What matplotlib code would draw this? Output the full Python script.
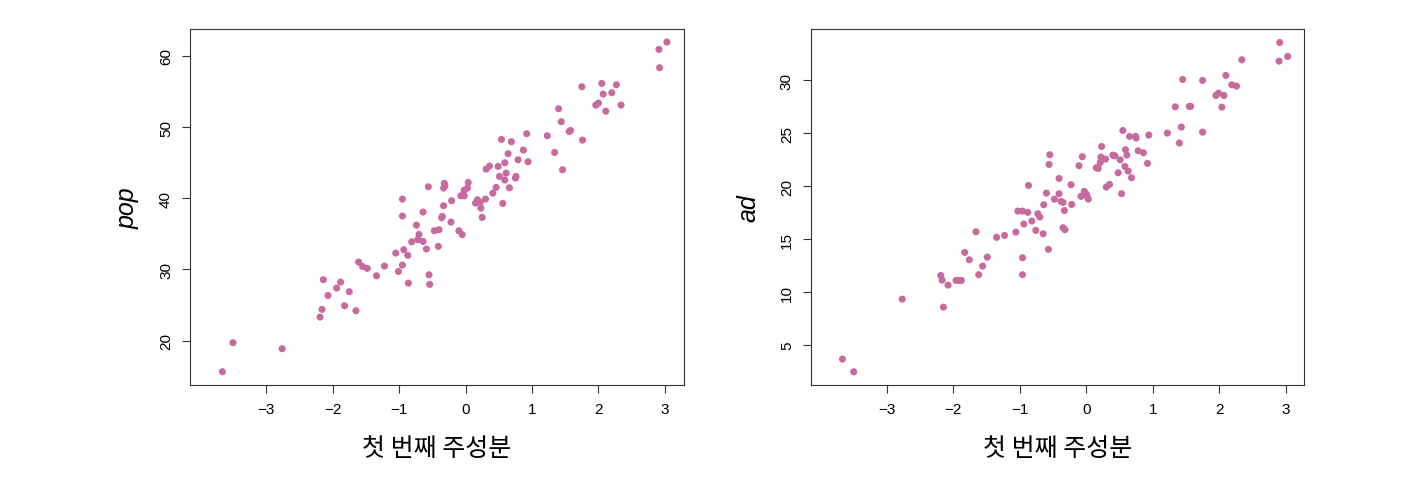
import matplotlib
matplotlib.use("Agg")
import matplotlib.pyplot as plt

plt.rcParams['font.family'] = ['Liberation Sans', 'Noto Sans CJK KR', 'DejaVu Sans']

# first principal component scores and pop (left panel)
pc1_pop = [-3.66, -3.50, -2.76, -2.19, -2.16, -2.14, -2.07, -1.94, -1.88, -1.82,
           -1.75, -1.65, -1.61, -1.55, -1.48, -1.34, -1.22, -1.05, -1.01, -0.95,
           -0.93, -0.87, -0.86, -0.95, -0.95, -0.81, -0.74, -0.70, -0.72, -0.64,
           -0.64, -0.59, -0.56, -0.55, -0.54, -0.47, -0.40, -0.41, -0.36, -0.35,
           -0.33, -0.33, -0.32, -0.31, -0.22, -0.21, -0.10, -0.05, -0.07, -0.02,
           -0.02, 0.04, 0.03, 0.15, 0.18, 0.22, 0.23, 0.25, 0.30, 0.31,
           0.36, 0.41, 0.46, 0.49, 0.51, 0.56, 0.54, 0.59, 0.59, 0.61,
           0.64, 0.66, 0.69, 0.75, 0.76, 0.79, 0.87, 0.92, 0.94, 1.23,
           1.34, 1.40, 1.44, 1.46, 1.56, 1.58, 1.75, 1.76, 1.96, 2.00,
           2.05, 2.07, 2.11, 2.20, 2.27, 2.34, 2.91, 2.92, 3.03]
pop = [15.65, 19.72, 18.88, 23.32, 24.40, 28.56, 26.36, 27.39, 28.23, 24.91,
       26.88, 24.21, 31.04, 30.43, 30.15, 29.12, 30.48, 32.30, 29.73, 30.62,
       32.77, 31.98, 28.09, 39.88, 37.50, 33.89, 36.23, 34.92, 34.18, 38.06,
       33.94, 32.87, 41.61, 29.26, 27.91, 35.44, 35.58, 33.24, 37.26, 37.45,
       38.95, 41.43, 42.08, 41.75, 36.65, 39.65, 35.44, 34.88, 40.35, 40.35,
       41.15, 42.22, 41.43, 39.32, 39.79, 39.42, 38.62, 37.31, 39.88, 44.09,
       44.51, 40.72, 41.52, 44.47, 43.06, 39.27, 48.26, 44.98, 42.55, 43.53,
       46.25, 41.47, 47.93, 42.83, 43.06, 45.40, 46.76, 49.05, 45.12, 48.77,
       46.43, 52.56, 50.74, 44.00, 49.38, 49.52, 55.65, 48.16, 53.08, 53.36,
       56.12, 54.62, 52.23, 54.81, 55.93, 53.08, 60.89, 58.32, 61.92]

# first principal component scores and ad (right panel)
pc1_ad = [-3.67, -3.50, -2.77, -2.19, -2.17, -2.15, -2.08, -1.96, -1.92, -1.88,
          -1.83, -1.76, -1.66, -1.62, -1.56, -1.49, -1.35, -1.23, -1.06, -1.03,
          -0.96, -0.96, -0.96, -0.94, -0.88, -0.87, -0.82, -0.76, -0.73, -0.70,
          -0.65, -0.64, -0.60, -0.57, -0.56, -0.55, -0.48, -0.41, -0.41, -0.38,
          -0.35, -0.33, -0.35, -0.32, -0.23, -0.22, -0.11, -0.06, -0.08, -0.03,
          0.00, 0.03, 0.01, 0.15, 0.18, 0.22, 0.23, 0.21, 0.29, 0.30,
          0.35, 0.40, 0.43, 0.48, 0.51, 0.53, 0.55, 0.58, 0.59, 0.61,
          0.63, 0.65, 0.68, 0.74, 0.75, 0.78, 0.86, 0.92, 0.94, 1.22,
          1.34, 1.40, 1.43, 1.45, 1.55, 1.57, 1.75, 1.75, 1.95, 1.99,
          2.04, 2.07, 2.10, 2.19, 2.26, 2.34, 2.90, 2.91, 3.03]
ad = [3.68, 2.48, 9.34, 11.57, 11.13, 8.58, 10.66, 11.10, 11.10, 11.10,
      13.74, 13.05, 15.69, 11.64, 12.45, 13.30, 15.16, 15.35, 15.66, 17.64,
      17.64, 13.24, 11.64, 16.42, 17.52, 20.06, 16.70, 15.82, 17.39, 17.08,
      15.50, 18.24, 19.34, 14.03, 22.04, 22.96, 18.77, 20.72, 19.28, 18.55,
      18.46, 17.70, 16.07, 15.88, 20.13, 18.27, 21.92, 22.77, 19.03, 19.50,
      19.25, 18.77, 19.09, 21.73, 21.67, 22.74, 23.74, 22.23, 22.55, 19.91,
      20.16, 22.92, 22.86, 21.26, 22.48, 19.28, 25.25, 21.86, 23.43, 22.92,
      21.42, 24.69, 20.79, 24.69, 24.53, 23.33, 23.14, 22.14, 24.81, 25.00,
      27.48, 24.06, 25.57, 30.06, 27.52, 27.52, 25.09, 29.97, 28.55, 28.77,
      27.45, 28.55, 30.44, 29.56, 29.43, 31.92, 31.79, 33.55, 32.23]

x_ticks = [-3, -2, -1, 0, 1, 2, 3]
pink = '#C76A9F'

fig = plt.figure(figsize=(14.27, 5.02), dpi=100)
ax1 = fig.add_axes([0.133, 0.231, 0.346, 0.709])
ax2 = fig.add_axes([0.568, 0.231, 0.346, 0.709])

panels = [(ax1, pc1_pop, pop, 'pop', (13.78, 63.74), [20, 30, 40, 50, 60]),
          (ax2, pc1_ad, ad, 'ad', (1.23, 34.81), [5, 10, 15, 20, 25, 30])]

for ax, xs, ys, name, ylim, yt in panels:
    ax.scatter(xs, ys, s=26, color=pink, edgecolors='none')
    ax.set_xlim(-4.15, 3.28)
    ax.set_ylim(*ylim)
    ax.set_xticks(x_ticks)
    ax.set_xticklabels(['\u22123', '\u22122', '\u22121', '0', '1', '2', '3'])
    ax.set_yticks(yt)
    ax.tick_params(labelsize=11, length=6, color='#333333', pad=6)
    for lab in ax.get_yticklabels():
        lab.set_rotation(90)
        lab.set_va('center')
    for sp in ax.spines.values():
        sp.set_color('#333333')
    ax.set_xlabel('첫 번째 주성분', fontsize=18, labelpad=14,
                  family=['Noto Sans CJK KR', 'DejaVu Sans'])
    ax.set_ylabel(name, fontsize=18, style='italic', labelpad=14)

fig.savefig('out.png', dpi=100)
